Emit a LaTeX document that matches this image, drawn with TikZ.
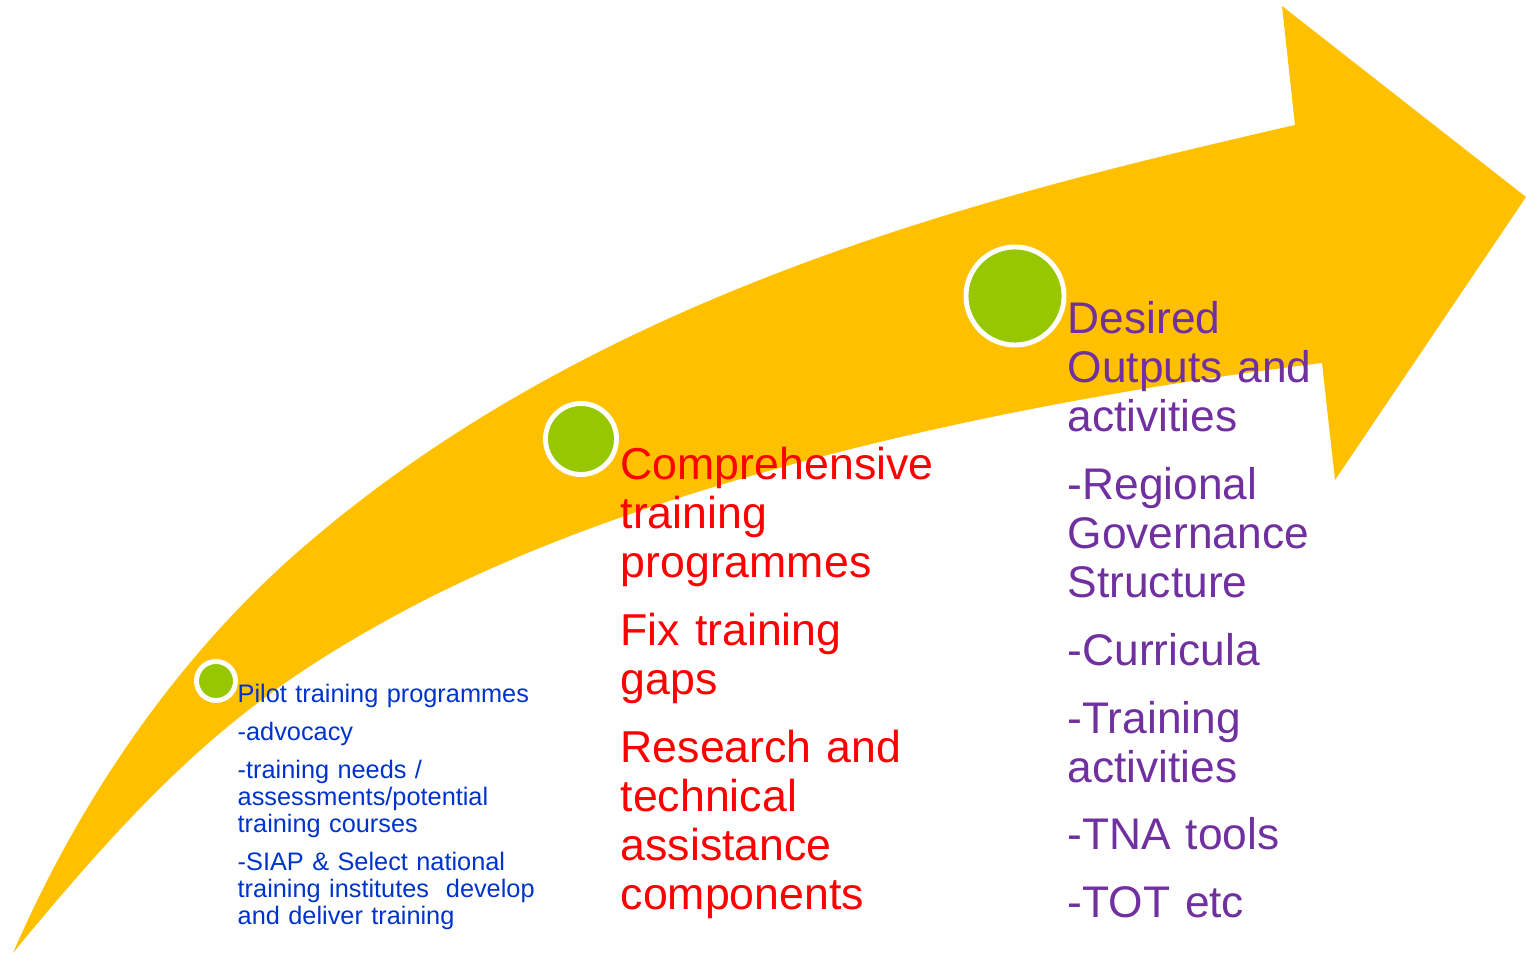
\documentclass[tikz,border=0pt]{standalone}
\usepackage{fontspec}
\setmainfont{Liberation Sans}
\usepackage{xcolor}
\usepackage{tikz}
\definecolor{arrowgold}{RGB}{255,192,0}
\definecolor{dotgreen}{RGB}{150,199,0}
\definecolor{pilotblue}{RGB}{0,51,204}
\definecolor{outpurple}{RGB}{112,48,160}
\tikzstyle{milestone} = [circle, fill=dotgreen, draw=white, line width=1.4pt, inner sep=0pt]
\tikzstyle{steptext} = [anchor=base west, inner sep=0pt, align=left]
\tikzstyle{bluetext} = [steptext, text width=3.4cm, text=pilotblue, font=\fontsize{7.2}{7.68}\selectfont]
\tikzstyle{redtext} = [steptext, text width=3.5cm, text=red, font=\fontsize{12.7}{13.9}\selectfont]
\tikzstyle{purpletext} = [steptext, text width=3.2cm, text=outpurple, font=\fontsize{12.6}{13.9}\selectfont]

\begin{document}
\begin{tikzpicture}[x=0.01cm, y=-0.01cm]
        \useasboundingbox (0,0) rectangle (1526,955);

        % Curved arrow
        \fill[arrowgold] (13,953) .. controls (93,769) and (200,637) .. (300,550)
            .. controls (600,289) and (995,194) .. (1295,125)
            -- (1282,6) -- (1526,197) -- (1335,480) -- (1322,363)
            .. controls (1022,400) and (650,478) .. (400,613)
            .. controls (250,694) and (163,770) .. (13,953) -- cycle;

        % Milestones
        \node [milestone, minimum size=0.39cm] (pilot_dot) at (216,681) {};
        \node [milestone, minimum size=0.71cm] (prog_dot) at (581,439) {};
        \node [milestone, minimum size=0.98cm] (out_dot) at (1015,296) {};

        % Texts
        \node [bluetext] (pilot_txt) at (237,703) {Pilot training programmes\\[3.1pt]
            -advocacy\\[3.1pt]
            -training needs /\\ assessments/potential\\ training courses\\[3.1pt]
            -SIAP \& Select national\\ training institutes\ \ develop\\ and deliver training};
        \node [redtext] (prog_txt) at (620,480) {Comprehensive\\ training\\ programmes\\[5.4pt]
            Fix training\\ gaps\\[5.4pt]
            Research and\\ technical\\ assistance\\ components};
        \node [purpletext] (out_txt) at (1067,334) {Desired\\ Outputs and\\ activities\\[5.4pt]
            -Regional\\ Governance\\ Structure\\[5.4pt]
            -Curricula\\[5.4pt]
            -Training\\ activities\\[5.4pt]
            -TNA tools\\[5.4pt]
            -TOT etc};
    \end{tikzpicture}
\end{document}
